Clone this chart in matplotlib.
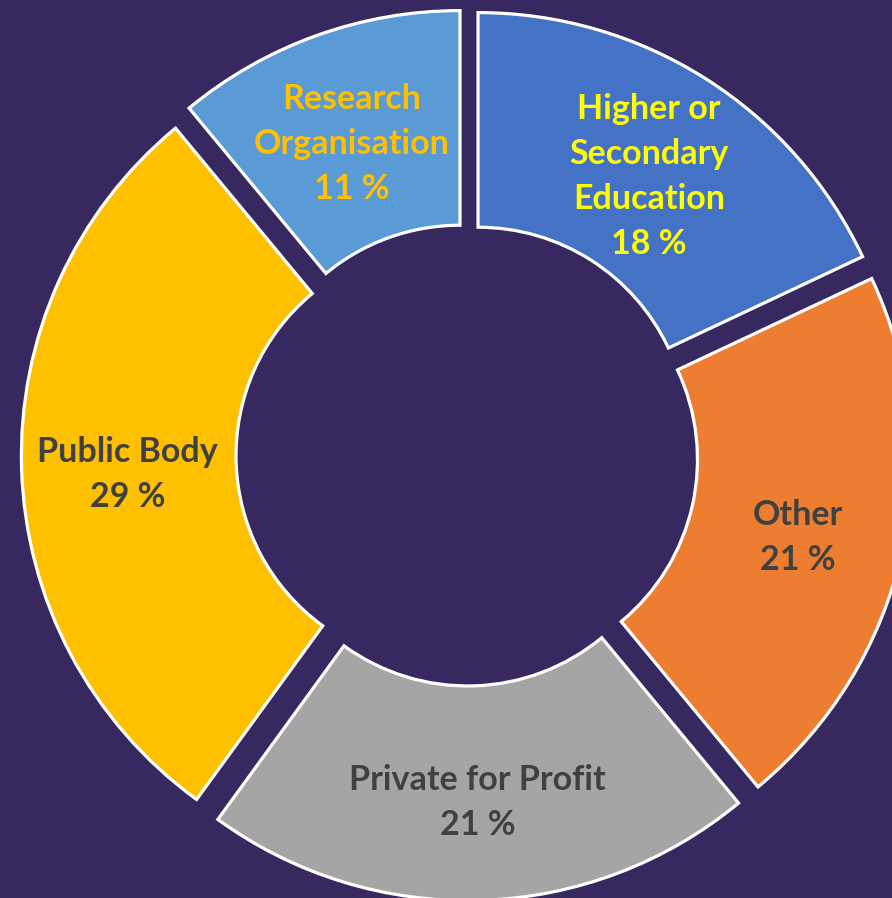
import matplotlib.pyplot as plt

# slices go clockwise from 12 o'clock
categories = ["Higher or\nSecondary\nEducation", "Other", "Private for Profit", "Public Body", "Research\nOrganisation"]
shares = [18, 21, 21, 29, 11]
slice_colors = ["#4472C4", "#ED7D31", "#A5A5A5", "#FFC000", "#5B9BD5"]
label_colors = ["#FFFF00", "#404040", "#404040", "#404040", "#FFC000"]

bg = "#372860"


def main():
    fig = plt.figure(figsize=(8.92, 8.98), dpi=100, facecolor=bg)
    ax = fig.add_axes([0, 0, 1, 1])
    ax.set_facecolor(bg)

    labels = [f"{c}\n{v} %" for c, v in zip(categories, shares)]
    wedges, texts = ax.pie(
        shares,
        labels=labels,
        colors=slice_colors,
        startangle=90,
        counterclock=False,
        explode=[0.0485] * len(shares),
        labeldistance=0.75,
        radius=1.0,
        wedgeprops=dict(width=0.505, edgecolor="white", linewidth=2.3),
        textprops=dict(fontsize=24.5, fontweight="bold", family=["Lato", "DejaVu Sans"],
                       ha="center", va="center", linespacing=1.5),
    )
    for t, c in zip(texts, label_colors):
        t.set_color(c)
        t.set_horizontalalignment("center")
        # labels sit a touch lower in the slide version
        x, y = t.get_position()
        t.set_position((x, y - 0.02))

    # the donut runs off the right and bottom edges like the original slide
    ax.set_xlim(-1.0988, 1.0)
    ax.set_ylim(-1.0424, 1.0706)
    ax.set_aspect("equal")
    ax.axis("off")

    fig.savefig("out.png", dpi=100, facecolor=bg)


if __name__ == '__main__':
    main()
